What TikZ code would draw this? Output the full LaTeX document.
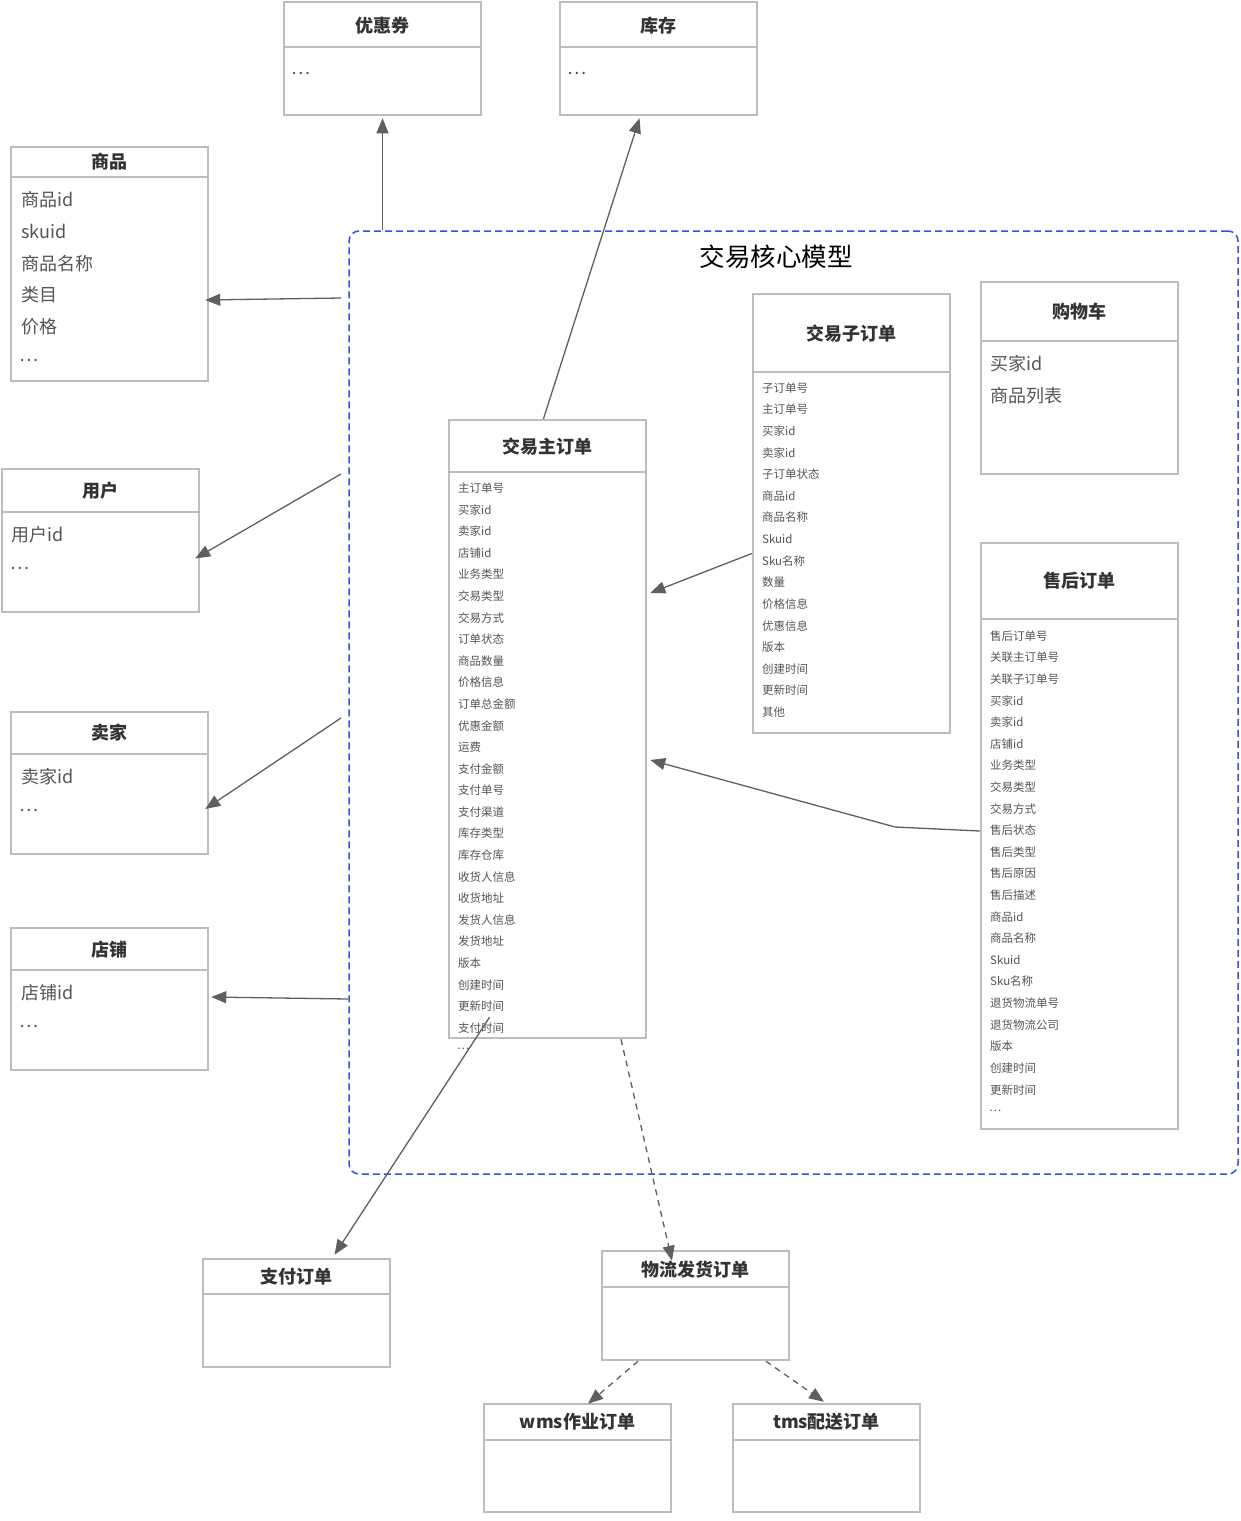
\documentclass[tikz,border=0pt]{standalone}
\usepackage{fontspec}
\setmainfont{Noto Sans CJK SC}
\usetikzlibrary{arrows.meta,calc}
\definecolor{boxgray}{HTML}{BDBDBD}
\definecolor{linegray}{HTML}{5F5F5F}
\definecolor{txt}{HTML}{555555}
\definecolor{ttl}{HTML}{333333}
\definecolor{coreblue}{HTML}{2E52E6}
\tikzset{
 umlbox/.style={draw=boxgray, line width=2.5pt, fill=white, inner sep=0pt},
 divider/.style={draw=boxgray, line width=2.5pt},
 ttlbox/.style={font=\fontsize{18}{20}\selectfont\bfseries, text=ttl, inner sep=0pt},
 bigitem/.style={font=\fontsize{18}{20}\selectfont, text=txt, anchor=west, inner sep=0pt},
 smallitem/.style={font=\fontsize{11.5}{13}\selectfont, text=txt, anchor=west, inner sep=0pt},
 conn/.style={draw=linegray, line width=1.3pt, -{Triangle[length=15pt,width=12pt]}},
 dconn/.style={conn, dash pattern=on 6pt off 5pt},
}
\newcommand\mkbox[8]{%
 \node[umlbox, minimum width={#4-#2}, minimum height={#5-#3}] (#1) at ({(#2+#4)/2},{(#3+#5)/2}) {};
 \draw[divider] (#2,#6) -- (#4,#6);
 \node[ttlbox] (#1-t) at ({(#2+#4)/2},#8) {#7};
}
\begin{document}
\begin{tikzpicture}[x=1pt,y=-1pt]
\useasboundingbox (0,0) rectangle (1240,1521);
\fill[white] (0,0) rectangle (1240,1521);

% core container
\node[draw=coreblue, line width=1.5pt, dash pattern=on 7pt off 4pt, rounded corners=10pt,
      minimum width=889, minimum height=943, inner sep=0pt] (core) at (793.5,702.5) {};
\node[font=\fontsize{25.5}{28}\selectfont, text=black, inner sep=0pt] (coretitle) at (776,257) {交易核心模型};

% top boxes
\mkbox{youhui}{284}{2}{481}{115}{47}{优惠券}{26}
\node[bigitem] (youhui-1) at (291,73) {…};
\mkbox{kucun}{560}{2}{757}{115}{47}{库存}{26}
\node[bigitem] (kucun-1) at (567,73) {…};

% left boxes
\mkbox{shangpin}{11}{147}{208}{381}{177}{商品}{162}
\foreach \t [count=\i] in {商品id,skuid,商品名称,类目,价格}
  \node[bigitem] (shangpin-\i) at (21,{200+31.7*(\i-1)}) {\t};
\node[bigitem] (shangpin-6) at (19,360) {…};

\mkbox{yonghu}{2}{469}{199}{612}{512}{用户}{491}
\node[bigitem] (yonghu-1) at (11,535) {用户id};
\node[bigitem] (yonghu-2) at (10,568) {…};

\mkbox{maijia}{11}{712}{208}{854}{754}{卖家}{733}
\node[bigitem] (maijia-1) at (21,777) {卖家id};
\node[bigitem] (maijia-2) at (19,810) {…};

\mkbox{dianpu}{11}{928}{208}{1070}{970}{店铺}{950}
\node[bigitem] (dianpu-1) at (21,993) {店铺id};
\node[bigitem] (dianpu-2) at (19,1026) {…};

% main order
\mkbox{zhu}{449}{420}{646}{1038}{472}{交易主订单}{447}
\foreach \t [count=\i] in {主订单号,买家id,卖家id,店铺id,业务类型,交易类型,交易方式,订单状态,商品数量,价格信息,订单总金额,优惠金额,运费,支付金额,支付单号,支付渠道,库存类型,库存仓库,收货人信息,收货地址,发货人信息,发货地址,版本,创建时间,更新时间,支付时间}
  \node[smallitem] (zhu-\i) at (458,{488+21.6*(\i-1)}) {\t};
\node[smallitem] (zhu-27) at (457,1049) {…};

% sub order
\mkbox{zi}{753}{294}{950}{733}{372}{交易子订单}{334}
\foreach \t [count=\i] in {子订单号,主订单号,买家id,卖家id,子订单状态,商品id,商品名称,Skuid,Sku名称,数量,价格信息,优惠信息,版本,创建时间,更新时间,其他}
  \node[smallitem] (zi-\i) at (762,{388+21.6*(\i-1)}) {\t};

% cart
\mkbox{gouwu}{981}{282}{1178}{474}{341}{购物车}{312}
\node[bigitem] (gouwu-1) at (990,364) {买家id};
\node[bigitem] (gouwu-2) at (990,396) {商品列表};

% after-sale
\mkbox{shouhou}{981}{543}{1178}{1129}{619}{售后订单}{581}
\foreach \t [count=\i] in {售后订单号,关联主订单号,关联子订单号,买家id,卖家id,店铺id,业务类型,交易类型,交易方式,售后状态,售后类型,售后原因,售后描述,商品id,商品名称,Skuid,Sku名称,退货物流单号,退货物流公司,版本,创建时间,更新时间}
  \node[smallitem] (shouhou-\i) at (990,{636+21.6*(\i-1)}) {\t};
\node[smallitem] (shouhou-23) at (989,1111) {…};

% bottom boxes
\mkbox{zhifu}{203}{1259}{390}{1367}{1294}{支付订单}{1277}
\mkbox{wuliu}{602}{1251}{789}{1360}{1287}{物流发货订单}{1270}
\mkbox{wms}{484}{1404}{671}{1512}{1440}{wms作业订单}{1422}
\mkbox{tms}{733}{1404}{920}{1512}{1440}{tms配送订单}{1422}

% connectors
\coordinate (a3) at (341,298);
\coordinate (a4) at (341,474);
\coordinate (a5) at (341,718);
\coordinate (bend) at (895,827);

\draw[conn] (core.north -| youhui.south) -- ($(youhui.south)+(0,2)$);
\draw[conn] ($(zhu.north)+(-4,0)$) -- ($(kucun.south)+(-19,2)$);
\draw[conn] (a3) -- ($(shangpin.east)+(-4,36)$);
\draw[conn] (a4) -- ($(yonghu.east)+(-5,18)$);
\draw[conn] (a5) -- ($(maijia.east)+(-4,26)$);
\draw[conn] (core.west |- dianpu.east) -- ($(dianpu.east)+(2,-2)$);
\draw[conn] ($(zi.west)+(0,40)$) -- ($(zhu.east)+(3,-136)$);
\draw[conn] ($(shouhou.west)+(0,-5)$) -- (bend) -- ($(zhu.east)+(3,31)$);
\draw[conn] ($(zhu.south)+(-58,-22)$) -- ($(zhifu.north)+(38,-3)$);
\draw[dconn] ($(zhu.south)+(73.5,0)$) -- ($(wuliu.north)+(-23.5,11)$);
\draw[dconn] ($(wuliu.south)+(-57.5,0)$) -- ($(wms.north)+(10.5,1)$);
\draw[dconn] ($(wuliu.south)+(70.5,0)$) -- ($(tms.north)+(-2.5,-1)$);
\end{tikzpicture}
\end{document}
